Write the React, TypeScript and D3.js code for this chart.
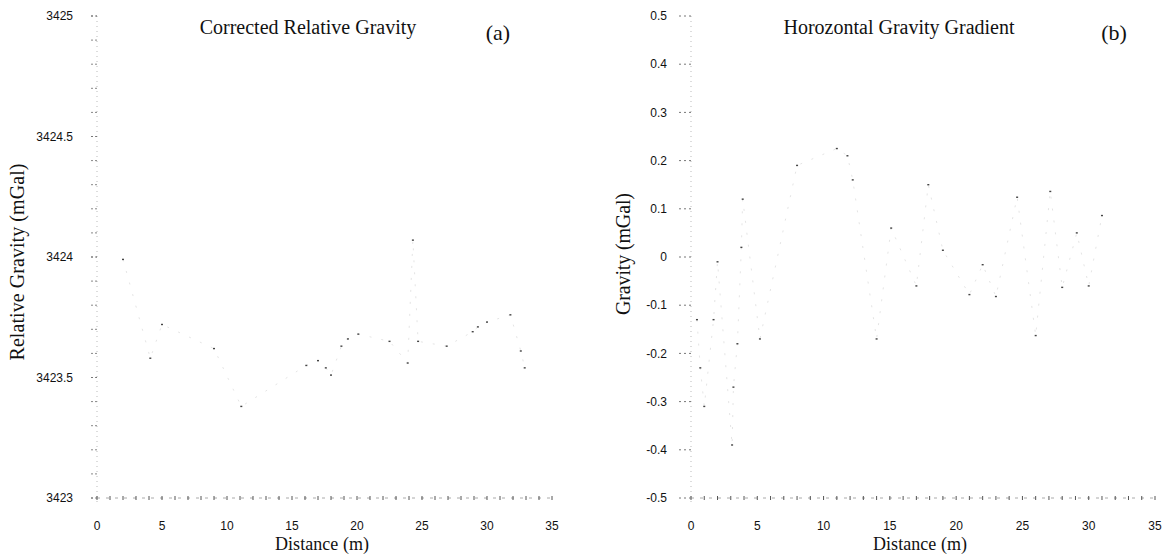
import React from 'react';
import * as d3 from 'd3';

// x axis (both panels)
const distTicks = [0, 5, 10, 15, 20, 25, 30, 35];

// panel (a) - corrected relative gravity
const gravTicks = [3423, 3423.5, 3424, 3424.5, 3425];
const gravDist = [2, 4.1, 5, 9, 11.1, 16.1, 17, 17.6, 18, 18.8, 19.3, 20.1, 22.5, 23.9, 24.3, 24.7, 26.9, 28.9, 29.3, 30, 31.8, 32.6, 32.9];
const gravValue = [3423.99, 3423.58, 3423.72, 3423.62, 3423.38, 3423.55, 3423.57, 3423.54, 3423.51, 3423.63, 3423.66, 3423.68, 3423.65, 3423.56, 3424.07, 3423.65, 3423.63, 3423.69, 3423.71, 3423.73, 3423.76, 3423.61, 3423.54];

// panel (b) - horizontal gravity gradient
const gradTicks = [-0.5, -0.4, -0.3, -0.2, -0.1, 0, 0.1, 0.2, 0.3, 0.4, 0.5];
const gradDist = [0.45, 0.7, 1.0, 1.7, 2.0, 3.1, 3.2, 3.5, 3.8, 3.9, 5.2, 8, 11, 11.8, 12.2, 14, 15.1, 17, 17.9, 19, 21, 22, 23, 24.6, 26, 27.1, 28, 29.1, 30, 31];
const gradValue = [-0.13, -0.23, -0.31, -0.13, -0.01, -0.39, -0.27, -0.18, 0.02, 0.12, -0.17, 0.19, 0.225, 0.21, 0.16, -0.17, 0.06, -0.06, 0.15, 0.014, -0.078, -0.016, -0.082, 0.124, -0.163, 0.136, -0.063, 0.05, -0.06, 0.086];

const serif = '"Liberation Serif", "Times New Roman", serif';
const sans = '"Liberation Sans", Arial, sans-serif';

const Panel = ({ xs, ys, xRange, yDomain, yTicks, yMinor, fmt, tickLen, title, titleX, tag, tagX, yLabel, yLabelX, yLabelY, yLabelLen, xLabelX }) => {
    const top = 16, bottom = 498;
    const x = d3.scaleLinear().domain([0, 35]).range(xRange);
    const y = d3.scaleLinear().domain(yDomain).range([bottom, top]);
    const pts = xs.map((d, i) => [d, ys[i]]);
    const line = d3.line().x(d => x(d[0])).y(d => y(d[1]));
    const x0 = xRange[0];

    return (
        <g>
            {/* faded axis lines */}
            <line x1={x0} x2={x0} y1={top} y2={bottom + 8} stroke="#bbb" strokeWidth={1} strokeDasharray="1 4" />
            <line x1={x0} x2={x(35)} y1={bottom} y2={bottom} stroke="#aaa" strokeWidth={1} strokeDasharray="3 6" />

            {d3.range(0, 36).map(v => (
                <line key={'xt' + v} x1={x(v)} x2={x(v)} y1={bottom - 2} y2={bottom + 2} stroke="#555" strokeWidth={1} />
            ))}
            {yMinor.map((v, i) => (
                <line key={'ym' + i} x1={x0 - 6} x2={x0} y1={y(v)} y2={y(v)} stroke="#888" strokeWidth={1} strokeDasharray="2 2" />
            ))}
            {yTicks.map(v => (
                <line key={'yt' + v} x1={x0 - tickLen} x2={x0} y1={y(v)} y2={y(v)} stroke="#777" strokeWidth={1} strokeDasharray="2 3" />
            ))}

            {/* tick labels */}
            {yTicks.map(v => (
                <text key={'yl' + v} x={x0 - 24} y={y(v)} dy="0.35em" textAnchor="end"
                    fontFamily={sans} fontSize={12} fill="#111">{fmt(v)}</text>
            ))}
            {distTicks.map(v => (
                <text key={'xl' + v} x={x(v)} y={530} textAnchor="middle"
                    fontFamily={sans} fontSize={12} fill="#111">{v}</text>
            ))}

            {/* data, mostly faded in the scan */}
            <path d={line(pts)} fill="none" stroke="#d2d2d2" strokeWidth={0.6} strokeDasharray="2 10" />
            {pts.map((d, i) => (
                <rect key={'p' + i} x={x(d[0]) - 1} y={y(d[1]) - 0.7} width={2} height={1.4} fill="#444" />
            ))}

            {/* titles */}
            <text x={titleX} y={34} textAnchor="middle" fontFamily={serif} fontSize={20} fill="#111">{title}</text>
            <text x={tagX} y={40} textAnchor="middle" fontFamily={serif} fontSize={22} fill="#111">{tag}</text>
            <text x={xLabelX} y={550} textAnchor="middle" fontFamily={serif} fontSize={18} fill="#111"
                textLength={94} lengthAdjust="spacing">Distance (m)</text>
            <text transform={`translate(${yLabelX},${yLabelY}) rotate(-90)`} textAnchor="middle"
                fontFamily={serif} fontSize={20} fill="#111" textLength={yLabelLen} lengthAdjust="spacing">{yLabel}</text>
        </g>
    );
};

export default function App() {
    const gravMinor = d3.range(0, 21).map(i => 3423 + i * 0.1);
    return (
        <svg width={1170} height={556} style={{ position: 'absolute', left: 0, top: 0, background: '#fff' }}>
            <rect width={1170} height={556} fill="#fff" />
            <Panel
                xs={gravDist} ys={gravValue} xRange={[97, 552]} yDomain={[3423, 3425]}
                yTicks={gravTicks} yMinor={gravMinor} fmt={d => String(d)} tickLen={6}
                title="Corrected Relative Gravity" titleX={308} tag="(a)" tagX={498}
                yLabel="Relative Gravity (mGal)" yLabelX={24} yLabelY={262} yLabelLen={197}
                xLabelX={322}
            />
            <Panel
                xs={gradDist} ys={gradValue} xRange={[691, 1155]} yDomain={[-0.5, 0.5]}
                yTicks={gradTicks} yMinor={[]} fmt={d => String(d)} tickLen={12}
                title="Horozontal Gravity Gradient" titleX={899} tag="(b)" tagX={1114}
                yLabel="Gravity (mGal)" yLabelX={630} yLabelY={254} yLabelLen={122}
                xLabelX={920}
            />
        </svg>
    );
}
